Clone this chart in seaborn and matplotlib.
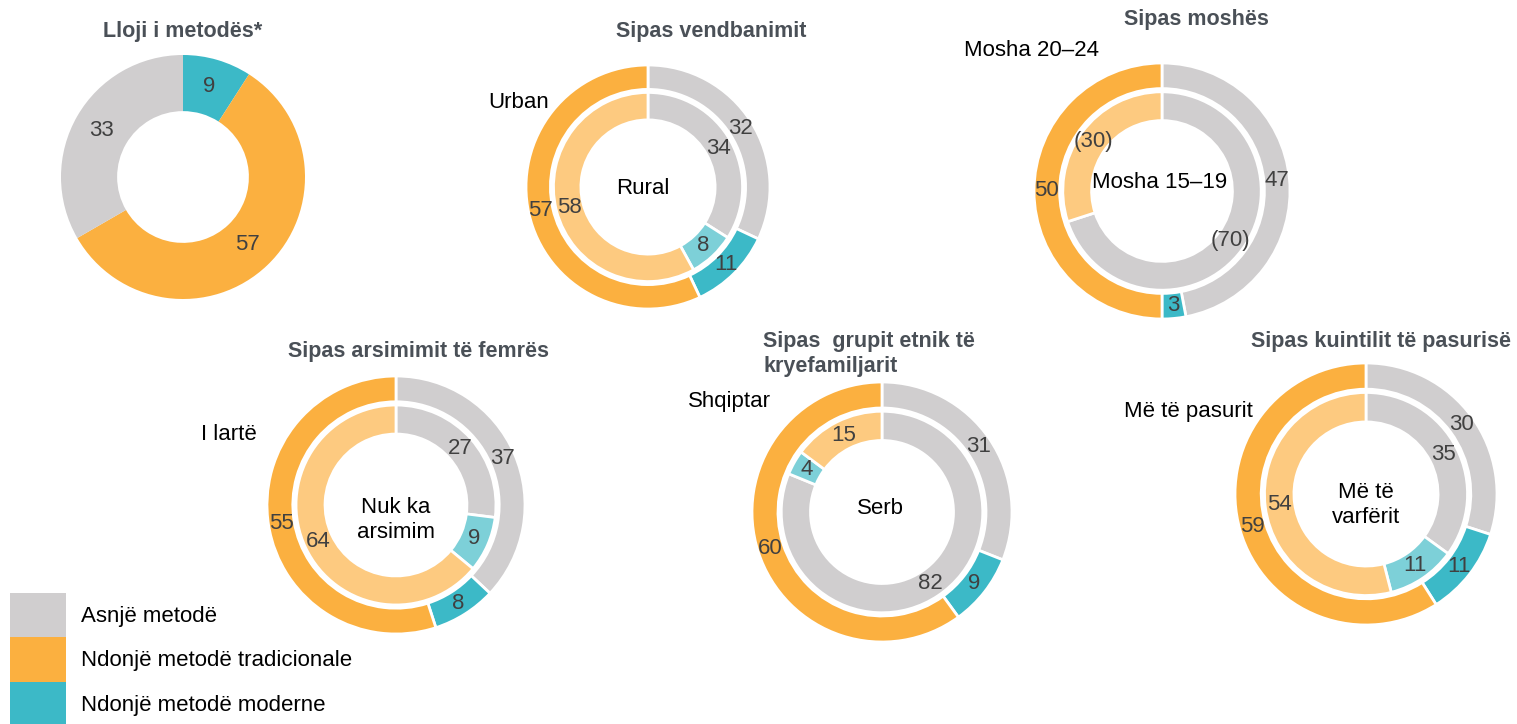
import numpy as np
import matplotlib
matplotlib.use('Agg')
import matplotlib.pyplot as plt
from matplotlib.patches import Patch
import seaborn as sns

# categories (legend order)
kategorite = ['Asnjë metodë', 'Ndonjë metodë tradicionale', 'Ndonjë metodë moderne']

# values, clockwise from 12 o'clock
metoda_vals = [9, 57, 33]                 # moderne, tradicionale, asnje
urban_vals = [32, 11, 57]                 # asnje, moderne, tradicionale
rural_vals = [34, 8, 58]
mosha_20_24 = [47, 3, 50]
mosha_15_19 = [70, 30]                    # asnje, tradicionale
larte_vals = [37, 8, 55]
pa_arsim_vals = [27, 9, 64]
shqiptar_vals = [31, 9, 60]
serb_vals = [82, 4, 15]
pasur_vals = [30, 11, 59]
varfer_vals = [35, 11, 54]

GRAY = '#D0CECF'
ORANGE = '#FBB040'
TEAL = '#3CB9C7'
ORANGE_L = '#FDCA80'
TEAL_L = '#7DD0D8'
NUM = '#404040'
TITLE = '#4A5057'

sns.set_theme(style='white')
plt.rcParams['font.family'] = ['Liberation Sans', 'DejaVu Sans']

W, H = 1517, 724
fig = plt.figure(figsize=(W / 100, H / 100), dpi=100)


def px(x, y):
    return x / W, 1 - y / H


def make_ax(cx, cy, R):
    m = 1.05
    ax = fig.add_axes([(cx - R * m) / W, (H - cy - R * m) / H, 2 * R * m / W, 2 * R * m / H])
    return ax


def ring(ax, vals, colors, radius, width, edge, fmt='{}'):
    labs = iter([fmt.format(v) for v in vals])
    ax.pie(vals, colors=colors, radius=radius, startangle=90, counterclock=False,
           wedgeprops=dict(width=width, edgecolor='white', linewidth=edge),
           autopct=lambda p: next(labs), pctdistance=(radius - width / 2) / radius,
           textprops=dict(fontsize=16, color=NUM))
    ax.set_xlim(-1.05, 1.05)
    ax.set_ylim(-1.05, 1.05)
    ax.set_aspect('equal')


def double(cx, cy, R, outer, inner, inner_cols=None, inner_fmt='{}'):
    ax = make_ax(cx, cy, R)
    ring(ax, outer, [GRAY, TEAL, ORANGE], 1.0, 0.2, 2)
    ring(ax, inner, inner_cols or [GRAY, TEAL_L, ORANGE_L], 0.775, 0.225, 2, inner_fmt)


# chart 1
ax1 = make_ax(183, 177, 122)
ring(ax1, metoda_vals, [TEAL, ORANGE, GRAY], 1.0, 0.46, 0)

double(648, 187, 122, urban_vals, rural_vals)
double(1162, 191, 128, mosha_20_24, mosha_15_19, [GRAY, ORANGE_L], '({})')
double(396, 505, 129, larte_vals, pa_arsim_vals)
double(882, 512, 130, shqiptar_vals, serb_vals)
double(1366, 494, 131, pasur_vals, varfer_vals)

# titles
tkw = dict(fontsize=15.5, fontweight='bold', color=TITLE, va='center')
fig.text(*px(183, 32), 'Lloji i metodës*', ha='center', **tkw)
fig.text(*px(711, 31), 'Sipas vendbanimit', ha='center', **tkw)
fig.text(*px(1196, 19), 'Sipas moshës', ha='center', **tkw)
fig.text(*px(419, 352), 'Sipas arsimimit të femrës', ha='center', **tkw)
fig.text(*px(763, 354), 'Sipas  grupit etnik të\nkryefamiljarit', ha='left',
         linespacing=1.3, **tkw)
fig.text(*px(1381, 341), 'Sipas kuintilit të pasurisë', ha='center', **tkw)

# ring labels
lkw = dict(fontsize=16, color='black', ha='center', va='center')
fig.text(*px(519, 102), 'Urban', **lkw)
fig.text(*px(643, 188), 'Rural', **lkw)
fig.text(*px(1031, 51), 'Mosha 20–24', **lkw)
fig.text(*px(1160, 182), 'Mosha 15–19', **lkw)
fig.text(*px(229, 434), 'I lartë', **lkw)
fig.text(*px(396, 520), 'Nuk ka\narsimim', linespacing=1.3, **lkw)
fig.text(*px(729, 402), 'Shqiptar', **lkw)
fig.text(*px(880, 508), 'Serb', **lkw)
fig.text(*px(1188, 412), 'Më të pasurit', **lkw)
fig.text(*px(1366, 505), 'Më të\nvarfërit', linespacing=1.3, **lkw)

# legend
fs = 16 * 100 / 72
handles = [Patch(facecolor=c, linewidth=0, label=l)
           for c, l in zip([GRAY, ORANGE, TEAL], kategorite)]
fig.legend(handles=handles, loc='upper left', bbox_to_anchor=px(10, 593),
           frameon=False, fontsize=16, labelcolor='black',
           handlelength=56 / fs, handleheight=45 / fs * 1.33,
           labelspacing=0, handletextpad=15 / fs, borderpad=0, borderaxespad=0)

fig.savefig('out.png', dpi=100)
